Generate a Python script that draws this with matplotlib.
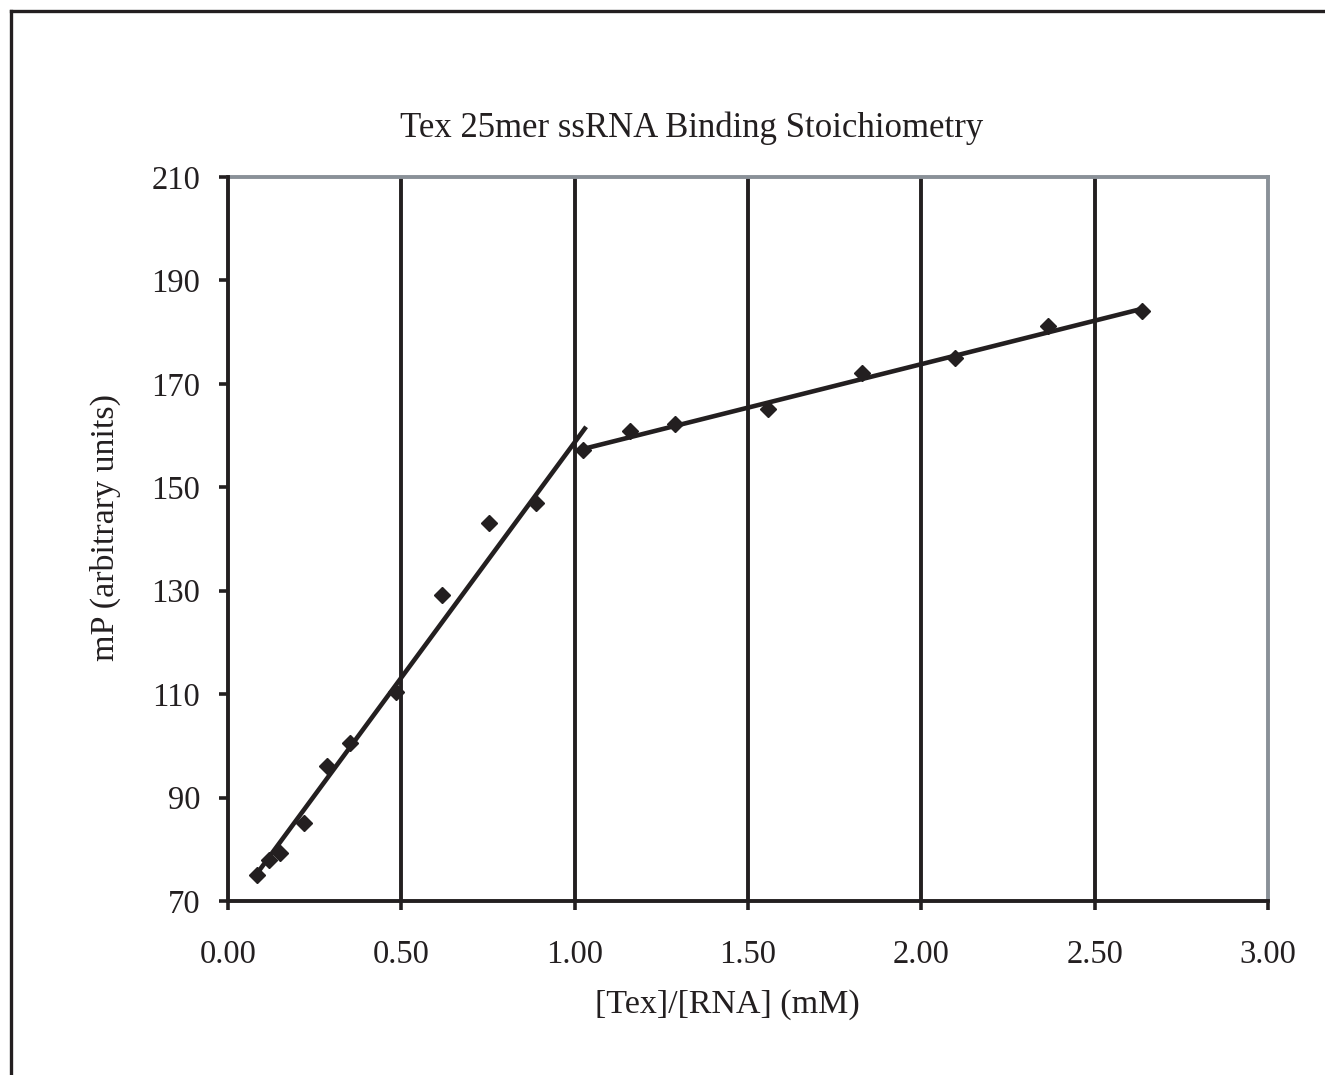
import matplotlib
matplotlib.use("Agg")
import matplotlib.pyplot as plt
import numpy as np
from matplotlib.lines import Line2D

# Data
ratio = [0.084, 0.118, 0.150, 0.219, 0.286, 0.352, 0.485, 0.617, 0.753, 0.888,
         1.024, 1.160, 1.289, 1.558, 1.829, 2.097, 2.365, 2.636]
mp = [75.0, 77.9, 79.3, 85.1, 96.1, 100.5, 110.4, 129.2, 143.1, 147.0,
      157.2, 160.9, 162.3, 165.2, 172.1, 175.0, 181.2, 184.1]

fit1_x = [0.078, 1.033]
fit1_y = [74.8, 161.7]
fit2_x = [1.024, 2.636]
fit2_y = [157.4, 184.5]

xticks = [0.0, 0.5, 1.0, 1.5, 2.0, 2.5, 3.0]
xticklabels = ["0.00", "0.50", "1.00", "1.50", "2.00", "2.50", "3.00"]
yticks = [70, 90, 110, 130, 150, 170, 190, 210]

plt.rcParams['font.family'] = ['Liberation Serif', 'DejaVu Serif']

W, H = 1325, 1075
fig = plt.figure(figsize=(W/100, H/100), dpi=100)
ax = fig.add_axes([228/W, 1 - 901/H, (1268-228)/W, (901-177)/H])

black = '#231f20'
gray = '#8a9198'

for gx in xticks[1:-1]:
    ax.axvline(gx, color=black, lw=2.8, zorder=1)

ax.plot(fit1_x, fit1_y, color=black, lw=3.3, zorder=3, solid_capstyle='butt')
ax.plot(fit2_x, fit2_y, color=black, lw=3.3, zorder=3, solid_capstyle='butt')
ax.plot(ratio, mp, linestyle='none', marker='D', ms=8.5, color=black, zorder=4)

ax.set_xlim(0, 3.0)
ax.set_ylim(70, 210)
ax.set_xticks(xticks)
ax.set_xticklabels(xticklabels)
ax.set_yticks(yticks)

for s in ['left', 'bottom']:
    ax.spines[s].set_color(black)
    ax.spines[s].set_linewidth(2.8)
for s in ['top', 'right']:
    ax.spines[s].set_color(gray)
    ax.spines[s].set_linewidth(2.8)
ax.spines['left'].set_zorder(5)
ax.spines['bottom'].set_zorder(5)

ax.tick_params(axis='both', direction='out', length=6.5, width=2.6, color=black,
               labelsize=23.5, labelcolor=black)
ax.tick_params(axis='x', pad=21)
ax.tick_params(axis='y', pad=13.5)

ax.set_xlabel("[Tex]/[RNA] (mM)", fontsize=24.5, color=black, labelpad=14)
ax.set_ylabel("mP (arbitrary units)", fontsize=24.5, color=black, labelpad=22)
ax.xaxis.label.set_x((727 - 228) / (1268 - 228))
ax.yaxis.label.set_y((901 - 527) / (901 - 177))
fig.text(692/W, 1 - 128/H, "Tex 25mer ssRNA Binding Stoichiometry",
         fontsize=25, color=black, ha='center', va='center')

# frame edges of the original figure border (left and top)
fig.add_artist(Line2D([11/W, 11/W], [0, 1 - 11/H], color=black, lw=2.4,
                      transform=fig.transFigure))
fig.add_artist(Line2D([11/W, 1], [1 - 11/H, 1 - 11/H], color=black, lw=2.4,
                      transform=fig.transFigure))

fig.savefig("out.png", dpi=100, facecolor='white')
